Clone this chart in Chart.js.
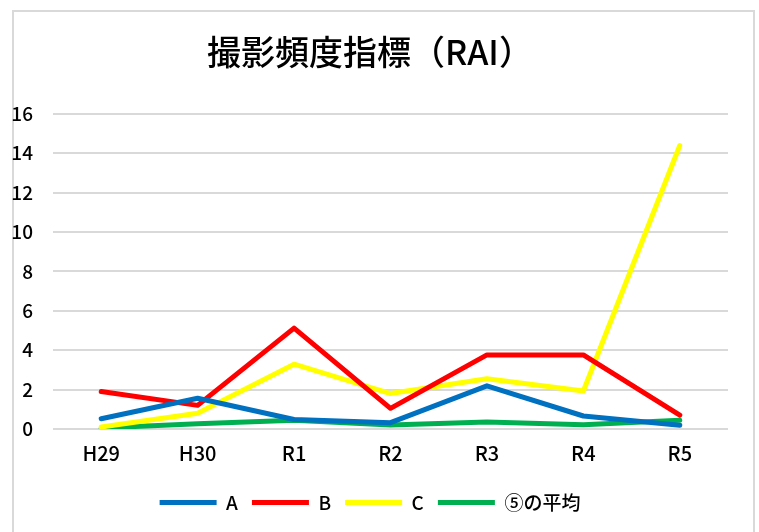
<!DOCTYPE html>
<html>
<head>
<meta charset="utf-8">
<script src="https://cdn.jsdelivr.net/npm/chart.js@4.4.0/dist/chart.umd.min.js"></script>
<style>
  html, body { margin: 0; padding: 0; background: #fff; }
  #wrap { position: relative; width: 759px; height: 532px; overflow: hidden; }
  #frame { position: absolute; left: 12px; top: 10px; width: 743px; height: 600px; border: 2px solid #d9d9d9; box-sizing: border-box; }
  canvas { position: absolute; left: 0; top: 0; }
</style>
</head>
<body>
<div id="wrap">
  <div id="frame"></div>
  <canvas id="raiChart" width="759" height="532"></canvas>
</div>
<script>
// 年度
const years = ['H29', 'H30', 'R1', 'R2', 'R3', 'R4', 'R5'];
// 各系列の値
const seriesA = [0.52, 1.56, 0.48, 0.32, 2.19, 0.66, 0.19];
const seriesB = [1.9, 1.2, 5.12, 1.05, 3.76, 3.76, 0.7];
const seriesC = [0.1, 0.8, 3.29, 1.8, 2.55, 1.93, 14.39];
const average5 = [0.05, 0.27, 0.44, 0.2, 0.36, 0.22, 0.44];
const yTicks = [0, 2, 4, 6, 8, 10, 12, 14, 16];

const fontFamily = '"Noto Sans CJK JP", "Noto Sans", sans-serif';

function lineSet(label, data, color) {
    return {
        label: label,
        data: data,
        borderColor: color,
        backgroundColor: color,
        borderWidth: 5,
        borderCapStyle: 'round',
        borderJoinStyle: 'round',
        pointRadius: 0,
        pointHoverRadius: 0,
        tension: 0,
        fill: false
    };
}

document.addEventListener('DOMContentLoaded', function () {
    const ctx = document.getElementById('raiChart').getContext('2d');
    new Chart(ctx, {
        type: 'line',
        data: {
            labels: years,
            datasets: [
                lineSet('A', seriesA, '#0070C0'),
                lineSet('B', seriesB, '#FF0000'),
                lineSet('C', seriesC, '#FFFF00'),
                lineSet('⑤の平均', average5, '#00B050')
            ]
        },
        options: {
            responsive: false,
            animation: false,
            layout: {
                padding: { left: 12, right: 31, top: 0, bottom: 10 }
            },
            plugins: {
                title: {
                    display: true,
                    text: '撮影頻度指標（RAI）',
                    color: '#000',
                    font: { family: fontFamily, size: 34, weight: '500' },
                    padding: { top: 32, bottom: 41 }
                },
                legend: {
                    position: 'bottom',
                    labels: {
                        usePointStyle: true,
                        pointStyle: 'line',
                        pointStyleWidth: 57,
                        boxHeight: 5,
                        padding: 14,
                        color: '#000',
                        font: { family: fontFamily, size: 19, weight: '500' }
                    }
                },
                tooltip: { enabled: false }
            },
            scales: {
                x: {
                    offset: true,
                    grid: { display: false },
                    border: { display: false },
                    afterFit: function (axis) {
                        axis.height += 10;
                    },
                    ticks: {
                        color: '#000',
                        padding: 4,
                        font: { family: fontFamily, size: 20, weight: '500' }
                    }
                },
                y: {
                    min: 0,
                    max: 16,
                    afterBuildTicks: function (axis) {
                        axis.ticks = yTicks.map(v => ({ value: v }));
                    },
                    afterFit: function (axis) {
                        axis.width = 41;
                    },
                    grid: { color: '#d9d9d9', lineWidth: 2, drawTicks: false },
                    border: { display: false },
                    ticks: {
                        color: '#000',
                        padding: 20,
                        font: { family: fontFamily, size: 19, weight: '500' }
                    }
                }
            }
        }
    });
});
</script>
</body>
</html>
